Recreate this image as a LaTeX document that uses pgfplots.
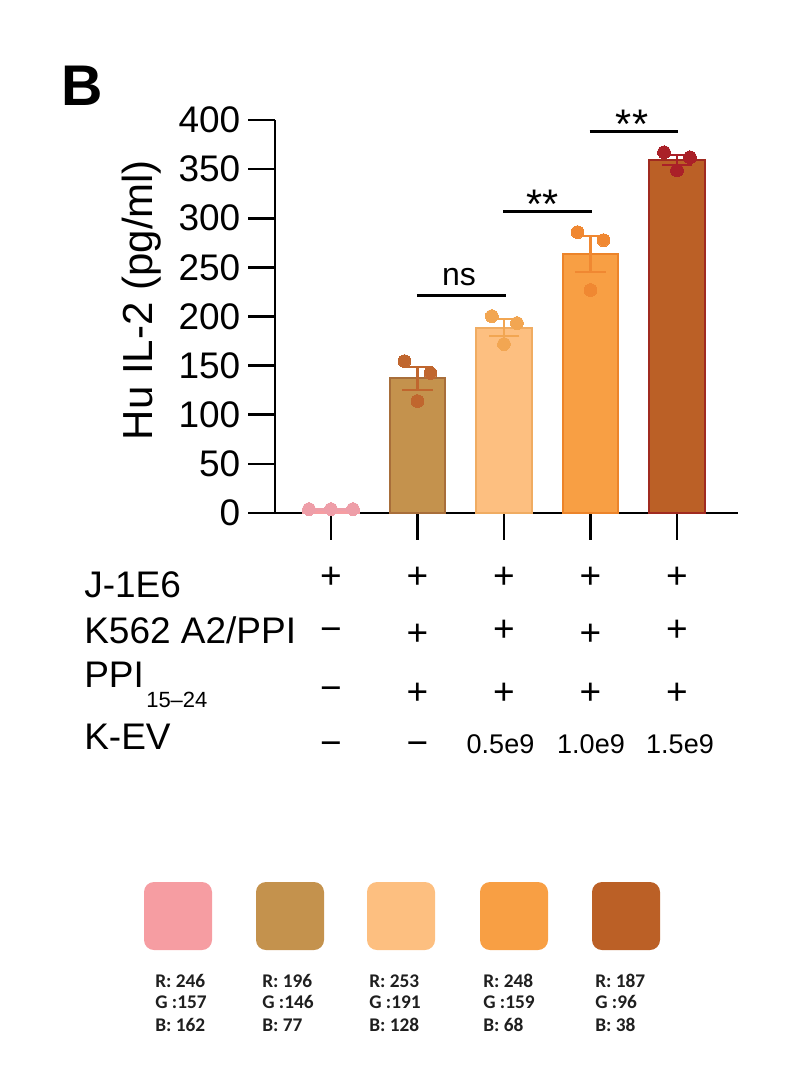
\documentclass[border=0pt]{standalone}
\usepackage{fontspec}
\setmainfont{Liberation Sans}
\newfontfamily\calib{Carlito}
\usepackage{pgfplots}
\pgfplotsset{compat=1.18}

% bar fills (from the swatches)
\definecolor{cA}{RGB}{246,157,162}
\definecolor{cB}{RGB}{196,146,77}
\definecolor{cC}{RGB}{253,191,128}
\definecolor{cD}{RGB}{248,159,68}
\definecolor{cE}{RGB}{187,96,38}
% dots / error bars
\definecolor{dA}{RGB}{238,158,168}
\definecolor{dB}{RGB}{192,102,46}
\definecolor{dC}{RGB}{242,166,82}
\definecolor{dD}{RGB}{240,136,50}
\definecolor{dE}{RGB}{170,32,40}
% bar outlines
\definecolor{eB}{RGB}{168,110,58}
\definecolor{eC}{RGB}{240,172,98}
\definecolor{eD}{RGB}{236,132,42}
\definecolor{eE}{RGB}{160,42,32}

\newcommand{\fs}[1]{\fontsize{#1}{#1}\selectfont}

\pgfplotsset{
  mybar/.style n args={3}{ybar, bar shift=0pt, bar width=0.642, fill=#1, draw=#2, line width=1.5pt,
    error bars/.cd, y dir=both, y explicit,
    error bar style={line width=1.6pt, draw=#3},
    error mark options={rotate=90, line width=1.6pt, mark size=11.5pt, draw=#3}},
  dots/.style={only marks, color=#1, mark=*, mark size=4.8pt, mark options={draw=#1, fill=#1, line width=0pt}},
}

\begin{document}
\begin{tikzpicture}
\begin{scope}[x=0.75pt,y=-0.75pt]
\useasboundingbox (0,0) rectangle (800,1066);
\end{scope}

\begin{axis}[
  at={(206.25pt,-384.75pt)}, anchor=south west,
  scale only axis, width=347.25pt, height=294.75pt,
  xmin=-0.647, xmax=4.705, ymin=0, ymax=400,
  axis x line=bottom, axis y line=left,
  axis line style={-, line width=2pt, black},
  ytick={0,50,...,400}, xtick={0,1,2,3,4}, xticklabels={},
  tick align=outside, major tick length=20pt,
  tick style={line width=2pt, black},
  /pgf/number format/assume math mode=true,
  yticklabel style={font=\fs{27.75}, xshift=-2.5pt},
  clip=false,
]
% bars: mean +- SEM
\addplot[mybar={cA}{cA}{dA}] coordinates {(0,4) +- (0,0.5)};
\addplot[mybar={cB}{eB}{dB}] coordinates {(1,137) +- (0,12)};
\addplot[mybar={cC}{eC}{dC}] coordinates {(2,188.6) +- (0,8.5)};
\addplot[mybar={cD}{eD}{dD}] coordinates {(3,263.5) +- (0,18.5)};
\addplot[mybar={cE}{eE}{dE}] coordinates {(4,359.4) +- (0,5.4)};

% individual replicates
\addplot[dots=dA] coordinates {(-0.254,4) (0,4) (0.254,4)};
\addplot[dots=dB] coordinates {(0.85,154.6) (1.15,142.4) (1,113.9)};
\addplot[dots=dC] coordinates {(1.86,200.4) (2.15,193.3) (2,172.0)};
\addplot[dots=dD] coordinates {(2.85,285.9) (3.15,277.7) (3,226.9)};
\addplot[dots=dE] coordinates {(3.85,367.2) (4.15,362.1) (4,348.9)};

% significance
\draw[line width=2pt] (axis cs:0.994,221.5) -- (axis cs:2.02,221.5);
\node[anchor=base, inner sep=0, font=\fs{24}] at (axis cs:1.48,232) {ns};
\draw[line width=2pt] (axis cs:1.99,307.2) -- (axis cs:3.02,307.2);
\node[anchor=base, inner sep=0, font=\fs{31}] at (axis cs:2.45,300) {**};
\draw[line width=2pt] (axis cs:2.99,388.6) -- (axis cs:4.01,388.6);
\node[anchor=base, inner sep=0, font=\fs{31}] at (axis cs:3.48,381.5) {**};
\end{axis}

\begin{scope}[x=0.75pt,y=-0.75pt]
\node[anchor=base west, inner sep=0, font=\fs{43}\bfseries] at (61,106) {B};
\node[rotate=90, anchor=base, inner sep=0, font=\fs{31.5}] at (152,300) {Hu IL-2 (pg/ml)};

% condition table
\begin{scope}[every node/.style={inner sep=0, font=\fs{27.75}}]
\node[anchor=base west] at (84,597) {J-1E6};
\node[anchor=base west] at (84,643) {K562 A2/PPI};
\node[anchor=base west] at (84,687) {PPI};
\node[anchor=base west] at (84,749) {K-EV};
\node[anchor=base west, font=\fs{16.5}] at (146,707) {15–24};

\foreach \x in {331,417.5,504,590.5,677} \node[anchor=base] at (\x,588) {+};
\node[anchor=base] at (331,641) {−};
\node[anchor=base] at (417.5,645) {+};
\node[anchor=base] at (504,641) {+};
\node[anchor=base] at (590.5,645) {+};
\node[anchor=base] at (677,641) {+};
\node[anchor=base] at (331,700) {−};
\foreach \x in {417.5,504,590.5,677} \node[anchor=base] at (\x,704) {+};
\node[anchor=base] at (331,755) {−};
\node[anchor=base] at (417.5,755) {−};
\node[anchor=base, font=\fs{20.25}] at (500.5,753) {0.5e9};
\node[anchor=base, font=\fs{20.25}] at (591,753) {1.0e9};
\node[anchor=base, font=\fs{20.25}] at (680,753) {1.5e9};
\end{scope}

% colour swatches
\foreach \c/\l in {cA/144,cB/256,cC/367,cD/480,cE/592}
  \fill[\c, rounded corners=7.5pt] (\l,882) rectangle ++(68,68);
\begin{scope}[every node/.style={anchor=base west, inner sep=0, font=\calib\bfseries\fs{14.5}, text=black!88}]
\foreach \x/\r/\g/\b in {155/246/157/162,262/196/146/77,369/253/191/128,483/248/159/68,595/187/96/38}{
  \node at (\x,987) {R: \r};
  \node at (\x,1008) {G :\g};
  \node at (\x,1031) {B: \b};
}
\end{scope}
\end{scope}
\end{tikzpicture}
\end{document}
